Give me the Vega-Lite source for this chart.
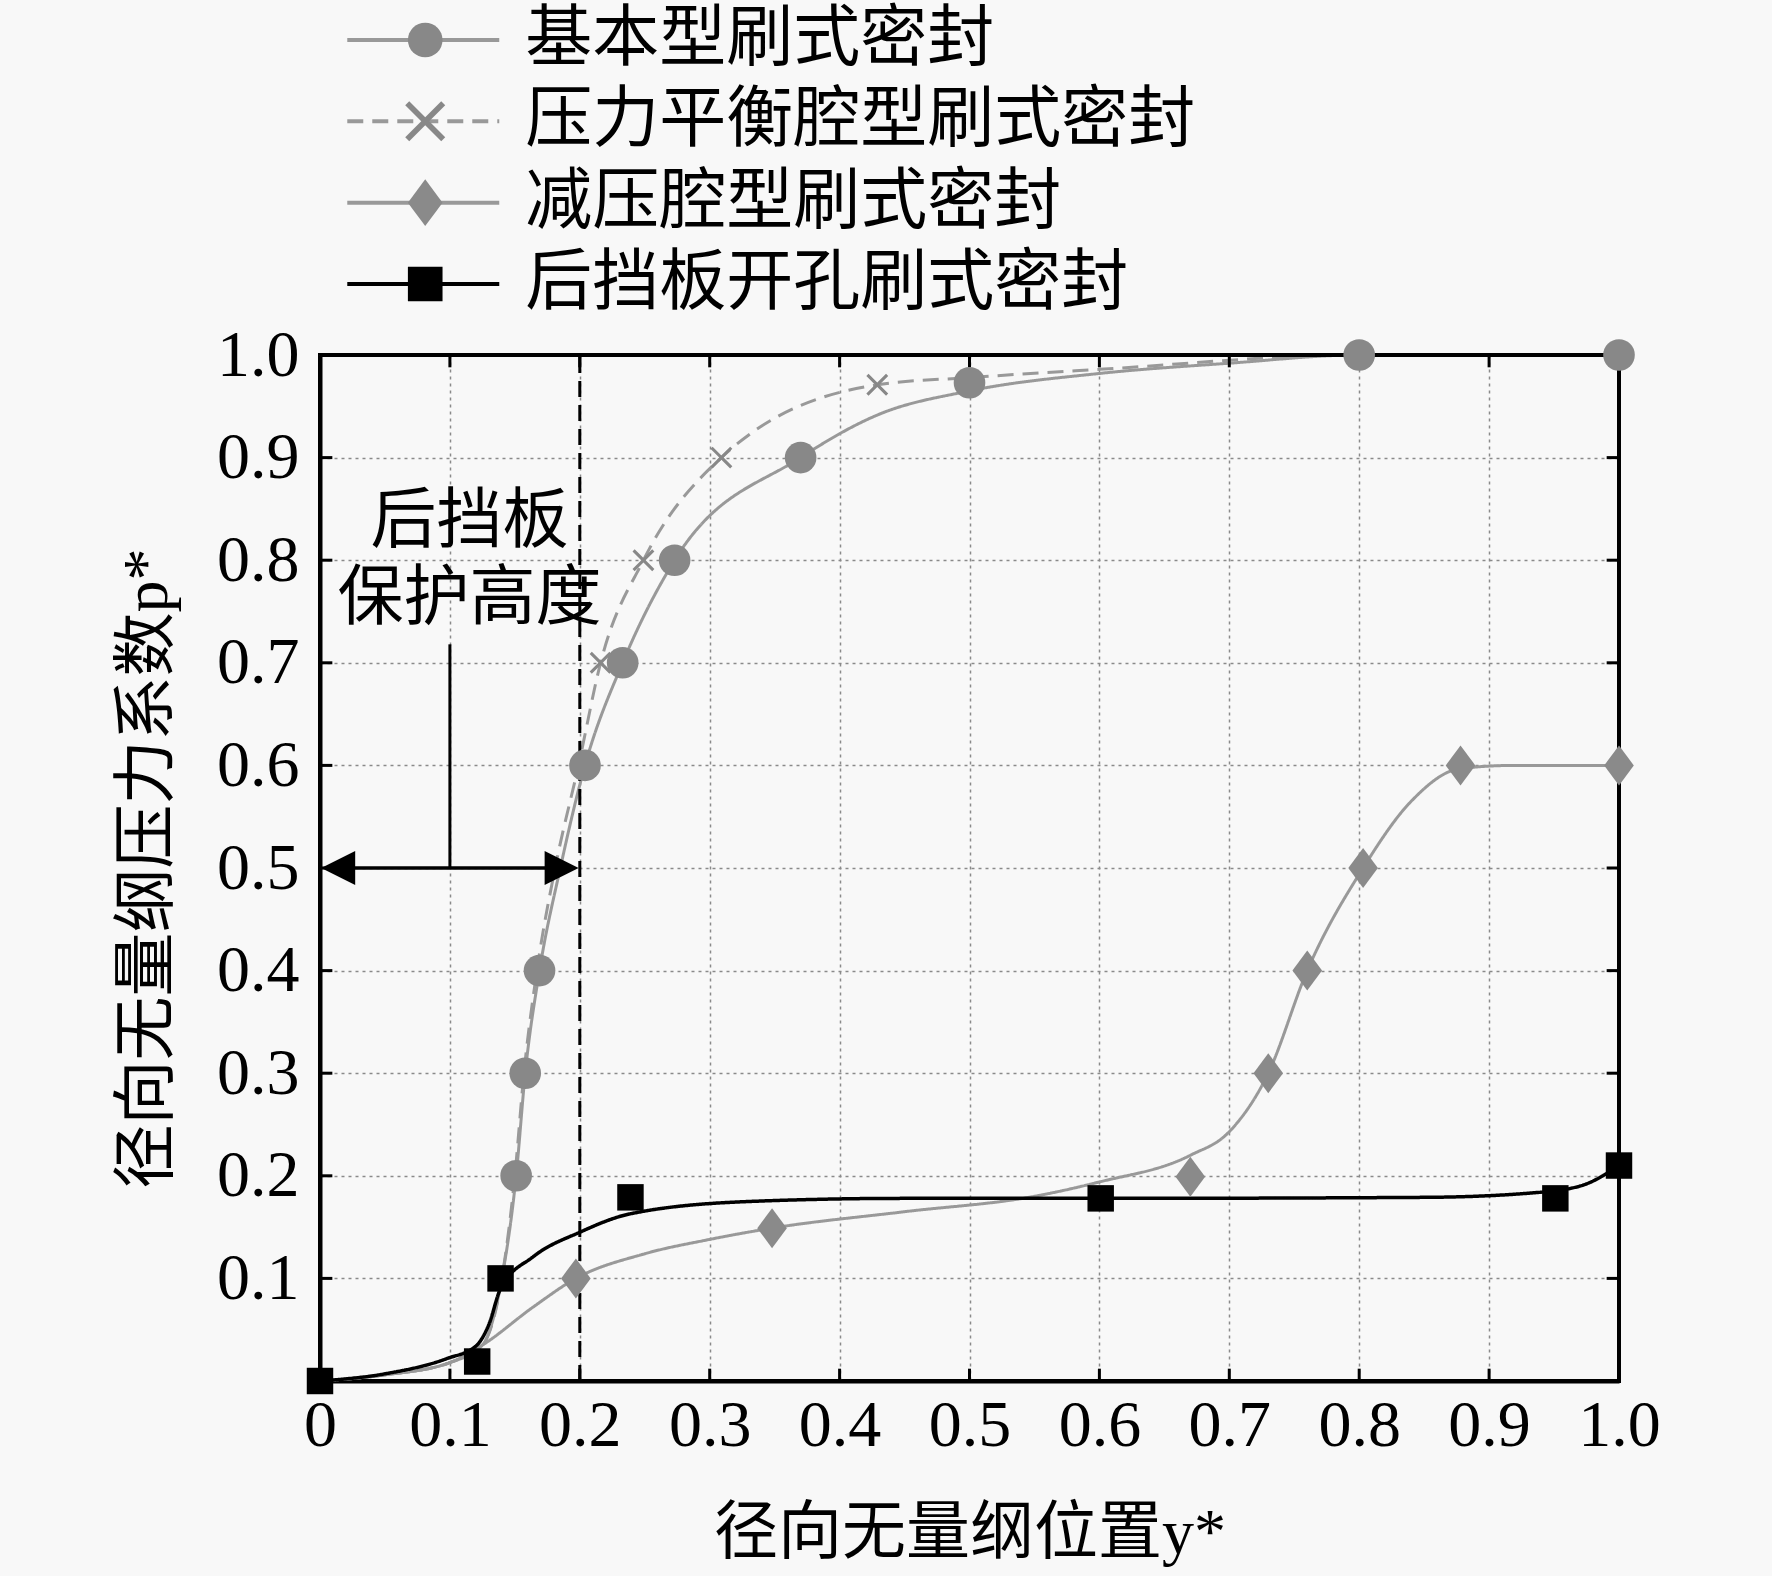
{
  "$schema": "https://vega.github.io/schema/vega-lite/v6.json",
  "width": 1299,
  "height": 1026,
  "autosize": {"type": "none"},
  "padding": {"left": 320, "top": 355, "right": 153, "bottom": 195},
  "background": "#f8f8f8",
  "datasets": {
    "curves": [
      {"series": "基本型刷式密封", "x": 0, "p": 0},
      {"series": "基本型刷式密封", "x": 0.05, "p": 0.006},
      {"series": "基本型刷式密封", "x": 0.1, "p": 0.018},
      {"series": "基本型刷式密封", "x": 0.125, "p": 0.035},
      {"series": "基本型刷式密封", "x": 0.14, "p": 0.1},
      {"series": "基本型刷式密封", "x": 0.151, "p": 0.2},
      {"series": "基本型刷式密封", "x": 0.158, "p": 0.3},
      {"series": "基本型刷式密封", "x": 0.169, "p": 0.4},
      {"series": "基本型刷式密封", "x": 0.185, "p": 0.5},
      {"series": "基本型刷式密封", "x": 0.204, "p": 0.6},
      {"series": "基本型刷式密封", "x": 0.233, "p": 0.7},
      {"series": "基本型刷式密封", "x": 0.273, "p": 0.8},
      {"series": "基本型刷式密封", "x": 0.37, "p": 0.9},
      {"series": "基本型刷式密封", "x": 0.43, "p": 0.942},
      {"series": "基本型刷式密封", "x": 0.5, "p": 0.965},
      {"series": "基本型刷式密封", "x": 0.6, "p": 0.982},
      {"series": "基本型刷式密封", "x": 0.7, "p": 0.992},
      {"series": "基本型刷式密封", "x": 0.8, "p": 1.0},
      {"series": "基本型刷式密封", "x": 1.0, "p": 1.0},
      {"series": "压力平衡腔型刷式密封", "x": 0, "p": 0},
      {"series": "压力平衡腔型刷式密封", "x": 0.05, "p": 0.006},
      {"series": "压力平衡腔型刷式密封", "x": 0.1, "p": 0.018},
      {"series": "压力平衡腔型刷式密封", "x": 0.125, "p": 0.035},
      {"series": "压力平衡腔型刷式密封", "x": 0.14, "p": 0.1},
      {"series": "压力平衡腔型刷式密封", "x": 0.15, "p": 0.2},
      {"series": "压力平衡腔型刷式密封", "x": 0.157, "p": 0.3},
      {"series": "压力平衡腔型刷式密封", "x": 0.167, "p": 0.4},
      {"series": "压力平衡腔型刷式密封", "x": 0.181, "p": 0.5},
      {"series": "压力平衡腔型刷式密封", "x": 0.199, "p": 0.6},
      {"series": "压力平衡腔型刷式密封", "x": 0.216, "p": 0.7},
      {"series": "压力平衡腔型刷式密封", "x": 0.249, "p": 0.8},
      {"series": "压力平衡腔型刷式密封", "x": 0.309, "p": 0.9},
      {"series": "压力平衡腔型刷式密封", "x": 0.429, "p": 0.971},
      {"series": "压力平衡腔型刷式密封", "x": 0.5, "p": 0.978},
      {"series": "压力平衡腔型刷式密封", "x": 0.6, "p": 0.986},
      {"series": "压力平衡腔型刷式密封", "x": 0.8, "p": 1.0},
      {"series": "压力平衡腔型刷式密封", "x": 1.0, "p": 1.0},
      {"series": "减压腔型刷式密封", "x": 0, "p": 0},
      {"series": "减压腔型刷式密封", "x": 0.05, "p": 0.006},
      {"series": "减压腔型刷式密封", "x": 0.1, "p": 0.018},
      {"series": "减压腔型刷式密封", "x": 0.125, "p": 0.035},
      {"series": "减压腔型刷式密封", "x": 0.164, "p": 0.072},
      {"series": "减压腔型刷式密封", "x": 0.197, "p": 0.1},
      {"series": "减压腔型刷式密封", "x": 0.25, "p": 0.124},
      {"series": "减压腔型刷式密封", "x": 0.3, "p": 0.138},
      {"series": "减压腔型刷式密封", "x": 0.348, "p": 0.149},
      {"series": "减压腔型刷式密封", "x": 0.45, "p": 0.165},
      {"series": "减压腔型刷式密封", "x": 0.55, "p": 0.18},
      {"series": "减压腔型刷式密封", "x": 0.6, "p": 0.194},
      {"series": "减压腔型刷式密封", "x": 0.67, "p": 0.22},
      {"series": "减压腔型刷式密封", "x": 0.7, "p": 0.243},
      {"series": "减压腔型刷式密封", "x": 0.73, "p": 0.3},
      {"series": "减压腔型刷式密封", "x": 0.76, "p": 0.4},
      {"series": "减压腔型刷式密封", "x": 0.803, "p": 0.5},
      {"series": "减压腔型刷式密封", "x": 0.84, "p": 0.565},
      {"series": "减压腔型刷式密封", "x": 0.878, "p": 0.597},
      {"series": "减压腔型刷式密封", "x": 0.92, "p": 0.6},
      {"series": "减压腔型刷式密封", "x": 1.0, "p": 0.6},
      {"series": "后挡板开孔刷式密封", "x": 0, "p": 0},
      {"series": "后挡板开孔刷式密封", "x": 0.05, "p": 0.007},
      {"series": "后挡板开孔刷式密封", "x": 0.098, "p": 0.022},
      {"series": "后挡板开孔刷式密封", "x": 0.12, "p": 0.034},
      {"series": "后挡板开孔刷式密封", "x": 0.13, "p": 0.055},
      {"series": "后挡板开孔刷式密封", "x": 0.139, "p": 0.09},
      {"series": "后挡板开孔刷式密封", "x": 0.164, "p": 0.121},
      {"series": "后挡板开孔刷式密封", "x": 0.2, "p": 0.145},
      {"series": "后挡板开孔刷式密封", "x": 0.239, "p": 0.163},
      {"series": "后挡板开孔刷式密封", "x": 0.331, "p": 0.175},
      {"series": "后挡板开孔刷式密封", "x": 0.45, "p": 0.178},
      {"series": "后挡板开孔刷式密封", "x": 0.6, "p": 0.178},
      {"series": "后挡板开孔刷式密封", "x": 0.85, "p": 0.179},
      {"series": "后挡板开孔刷式密封", "x": 0.93, "p": 0.183},
      {"series": "后挡板开孔刷式密封", "x": 0.97, "p": 0.19},
      {"series": "后挡板开孔刷式密封", "x": 1.0, "p": 0.21}
    ],
    "markers": [
      {"series": "基本型刷式密封", "x": 0.151, "p": 0.2},
      {"series": "基本型刷式密封", "x": 0.158, "p": 0.3},
      {"series": "基本型刷式密封", "x": 0.169, "p": 0.4},
      {"series": "基本型刷式密封", "x": 0.204, "p": 0.6},
      {"series": "基本型刷式密封", "x": 0.233, "p": 0.7},
      {"series": "基本型刷式密封", "x": 0.273, "p": 0.8},
      {"series": "基本型刷式密封", "x": 0.37, "p": 0.9},
      {"series": "基本型刷式密封", "x": 0.5, "p": 0.973},
      {"series": "基本型刷式密封", "x": 0.8, "p": 1.0},
      {"series": "基本型刷式密封", "x": 1.0, "p": 1.0},
      {"series": "压力平衡腔型刷式密封", "x": 0.216, "p": 0.7},
      {"series": "压力平衡腔型刷式密封", "x": 0.249, "p": 0.8},
      {"series": "压力平衡腔型刷式密封", "x": 0.309, "p": 0.9},
      {"series": "压力平衡腔型刷式密封", "x": 0.429, "p": 0.971},
      {"series": "减压腔型刷式密封", "x": 0.197, "p": 0.1},
      {"series": "减压腔型刷式密封", "x": 0.348, "p": 0.149},
      {"series": "减压腔型刷式密封", "x": 0.67, "p": 0.199},
      {"series": "减压腔型刷式密封", "x": 0.73, "p": 0.3},
      {"series": "减压腔型刷式密封", "x": 0.76, "p": 0.4},
      {"series": "减压腔型刷式密封", "x": 0.803, "p": 0.5},
      {"series": "减压腔型刷式密封", "x": 0.878, "p": 0.6},
      {"series": "减压腔型刷式密封", "x": 1.0, "p": 0.6},
      {"series": "后挡板开孔刷式密封", "x": 0, "p": 0},
      {"series": "后挡板开孔刷式密封", "x": 0.121, "p": 0.019},
      {"series": "后挡板开孔刷式密封", "x": 0.139, "p": 0.1},
      {"series": "后挡板开孔刷式密封", "x": 0.239, "p": 0.179},
      {"series": "后挡板开孔刷式密封", "x": 0.601, "p": 0.178},
      {"series": "后挡板开孔刷式密封", "x": 0.951, "p": 0.178},
      {"series": "后挡板开孔刷式密封", "x": 1.0, "p": 0.21}
    ],
    "legend": [
      {"series": "基本型刷式密封"},
      {"series": "压力平衡腔型刷式密封"},
      {"series": "减压腔型刷式密封"},
      {"series": "后挡板开孔刷式密封"}
    ],
    "ticks": [
      {"v": 0.1}, {"v": 0.2}, {"v": 0.3}, {"v": 0.4}, {"v": 0.5},
      {"v": 0.6}, {"v": 0.7}, {"v": 0.8}, {"v": 0.9}
    ]
  },
  "layer": [
    {
      "layer": [
        {
          "data": {"name": "curves"},
          "mark": {"type": "line", "interpolate": "monotone"},
          "encoding": {
            "x": {
              "field": "x",
              "type": "quantitative",
              "scale": {"domain": [0, 1], "nice": false},
              "title": "径向无量纲位置y*",
              "axis": {
                "values": [0, 0.1, 0.2, 0.3, 0.4, 0.5, 0.6, 0.7, 0.8, 0.9, 1.0],
                "labelExpr": "datum.value == 0 ? '0' : format(datum.value, '.1f')"
              }
            },
            "y": {
              "field": "p",
              "type": "quantitative",
              "scale": {"domain": [0, 1], "nice": false},
              "title": "径向无量纲压力系数p*",
              "axis": {
                "values": [0, 0.1, 0.2, 0.3, 0.4, 0.5, 0.6, 0.7, 0.8, 0.9, 1.0],
                "labelExpr": "datum.value == 0 ? '' : format(datum.value, '.1f')"
              }
            },
            "detail": {"field": "series"},
            "stroke": {
              "field": "series",
              "scale": {
                "domain": ["基本型刷式密封", "压力平衡腔型刷式密封", "减压腔型刷式密封", "后挡板开孔刷式密封"],
                "range": ["#999999", "#999999", "#999999", "#000000"]
              },
              "legend": null
            },
            "strokeDash": {
              "field": "series",
              "scale": {
                "domain": ["基本型刷式密封", "压力平衡腔型刷式密封", "减压腔型刷式密封", "后挡板开孔刷式密封"],
                "range": [[1, 0], [16, 9], [1, 0], [1, 0]]
              },
              "legend": null
            },
            "strokeWidth": {
              "field": "series",
              "scale": {
                "type": "ordinal",
                "domain": ["基本型刷式密封", "压力平衡腔型刷式密封", "减压腔型刷式密封", "后挡板开孔刷式密封"],
                "range": [3, 3, 3, 3.5]
              },
              "legend": null
            }
          }
        },
        {
          "data": {"name": "ticks"},
          "mark": {"type": "rule", "strokeWidth": 3, "color": "#000"},
          "encoding": {
            "x": {"field": "v", "type": "quantitative"},
            "y": {"datum": 0, "type": "quantitative"},
            "y2": {"datum": 0.012}
          }
        },
        {
          "data": {"name": "ticks"},
          "mark": {"type": "rule", "strokeWidth": 3, "color": "#000"},
          "encoding": {
            "x": {"field": "v", "type": "quantitative"},
            "y": {"datum": 1, "type": "quantitative"},
            "y2": {"datum": 0.988}
          }
        },
        {
          "data": {"name": "ticks"},
          "mark": {"type": "rule", "strokeWidth": 3, "color": "#000"},
          "encoding": {
            "y": {"field": "v", "type": "quantitative"},
            "x": {"datum": 0, "type": "quantitative"},
            "x2": {"datum": 0.0095}
          }
        },
        {
          "data": {"name": "ticks"},
          "mark": {"type": "rule", "strokeWidth": 3, "color": "#000"},
          "encoding": {
            "y": {"field": "v", "type": "quantitative"},
            "x": {"datum": 1, "type": "quantitative"},
            "x2": {"datum": 0.9905}
          }
        },
        {
          "data": {"values": [{}]},
          "mark": {"type": "rule", "strokeWidth": 4, "color": "#000"},
          "encoding": {
            "x": {"datum": 1, "type": "quantitative"},
            "y": {"datum": 0, "type": "quantitative"},
            "y2": {"datum": 1}
          }
        },
        {
          "data": {"values": [{}]},
          "mark": {"type": "rule", "strokeWidth": 4, "color": "#000"},
          "encoding": {
            "x": {"datum": 0, "type": "quantitative"},
            "x2": {"datum": 1},
            "y": {"datum": 1, "type": "quantitative"}
          }
        },
        {
          "data": {"values": [{}]},
          "mark": {"type": "rule", "strokeDash": [16, 8], "strokeWidth": 3, "color": "#000"},
          "encoding": {
            "x": {"datum": 0.2, "type": "quantitative"},
            "y": {"datum": 0, "type": "quantitative"},
            "y2": {"datum": 1}
          }
        },
        {
          "data": {"values": [{}]},
          "mark": {"type": "rule", "strokeWidth": 3.5, "color": "#000"},
          "encoding": {
            "x": {"datum": 0.006, "type": "quantitative"},
            "x2": {"datum": 0.194},
            "y": {"datum": 0.5, "type": "quantitative"}
          }
        },
        {
          "data": {"values": [{}]},
          "mark": {"type": "rule", "strokeWidth": 3, "color": "#000"},
          "encoding": {
            "x": {"datum": 0.1, "type": "quantitative"},
            "y": {"datum": 0.5, "type": "quantitative"},
            "y2": {"datum": 0.718}
          }
        },
        {
          "data": {"values": [{}]},
          "mark": {"type": "point", "shape": "M1,-1L-1,0L1,1Z", "filled": true, "color": "#000", "size": 1156, "opacity": 1},
          "encoding": {
            "x": {"datum": 0.014, "type": "quantitative"},
            "y": {"datum": 0.5, "type": "quantitative"}
          }
        },
        {
          "data": {"values": [{}]},
          "mark": {"type": "point", "shape": "M-1,-1L1,0L-1,1Z", "filled": true, "color": "#000", "size": 1156, "opacity": 1},
          "encoding": {
            "x": {"datum": 0.186, "type": "quantitative"},
            "y": {"datum": 0.5, "type": "quantitative"}
          }
        },
        {
          "data": {"values": [{}]},
          "mark": {"type": "text", "fontSize": 66, "font": "Liberation Serif, Noto Sans CJK SC", "align": "center", "baseline": "middle", "color": "#000", "text": "后挡板"},
          "encoding": {
            "x": {"datum": 0.115, "type": "quantitative"},
            "y": {"datum": 0.837, "type": "quantitative"}
          }
        },
        {
          "data": {"values": [{}]},
          "mark": {"type": "text", "fontSize": 66, "font": "Liberation Serif, Noto Sans CJK SC", "align": "center", "baseline": "middle", "color": "#000", "text": "保护高度"},
          "encoding": {
            "x": {"datum": 0.115, "type": "quantitative"},
            "y": {"datum": 0.762, "type": "quantitative"}
          }
        },
        {
          "data": {"name": "markers"},
          "mark": {"type": "point", "filled": true, "opacity": 1},
          "encoding": {
            "x": {"field": "x", "type": "quantitative"},
            "y": {"field": "p", "type": "quantitative"},
            "shape": {
              "field": "series",
              "scale": {
                "domain": ["基本型刷式密封", "压力平衡腔型刷式密封", "减压腔型刷式密封", "后挡板开孔刷式密封"],
                "range": ["circle", "M-1,-0.8L-0.8,-1L0,-0.2L0.8,-1L1,-0.8L0.2,0L1,0.8L0.8,1L0,0.2L-0.8,1L-1,0.8L-0.2,0Z", "M0,-1L0.74,0L0,1L-0.74,0Z", "square"]
              },
              "legend": null
            },
            "fill": {
              "field": "series",
              "scale": {
                "domain": ["基本型刷式密封", "压力平衡腔型刷式密封", "减压腔型刷式密封", "后挡板开孔刷式密封"],
                "range": ["#888888", "#888888", "#8a8a8a", "#000000"]
              },
              "legend": null
            },
            "size": {
              "field": "series",
              "scale": {
                "type": "ordinal",
                "domain": ["基本型刷式密封", "压力平衡腔型刷式密封", "减压腔型刷式密封", "后挡板开孔刷式密封"],
                "range": [1000, 480, 1600, 700]
              },
              "legend": null
            }
          }
        }
      ]
    },
    {
      "data": {"name": "legend"},
      "layer": [
        {
          "mark": {"type": "rule", "strokeWidth": 4},
          "encoding": {
            "x": {"datum": 0.021, "type": "quantitative"},
            "x2": {"datum": 0.138},
            "y": {
              "field": "series",
              "type": "nominal",
              "axis": null,
              "scale": {
                "type": "point",
                "padding": 0,
                "domain": ["基本型刷式密封", "压力平衡腔型刷式密封", "减压腔型刷式密封", "后挡板开孔刷式密封"],
                "range": [-315, -71]
              }
            },
            "stroke": {"field": "series", "legend": null},
            "strokeDash": {"field": "series", "legend": null}
          }
        },
        {
          "mark": {"type": "point", "filled": true, "opacity": 1},
          "encoding": {
            "x": {"datum": 0.081, "type": "quantitative"},
            "y": {"field": "series", "type": "nominal", "axis": null},
            "shape": {"field": "series", "legend": null},
            "fill": {"field": "series", "legend": null},
            "size": {
              "field": "series",
              "scale": {
                "type": "ordinal",
                "domain": ["基本型刷式密封", "压力平衡腔型刷式密封", "减压腔型刷式密封", "后挡板开孔刷式密封"],
                "range": [1200, 1600, 2200, 1200]
              },
              "legend": null
            }
          }
        },
        {
          "mark": {"type": "text", "fontSize": 67, "font": "Liberation Serif, Noto Sans CJK SC", "align": "left", "baseline": "middle", "color": "#000"},
          "encoding": {
            "x": {"datum": 0.158, "type": "quantitative"},
            "y": {"field": "series", "type": "nominal", "axis": null},
            "text": {"field": "series"}
          }
        }
      ]
    }
  ],
  "resolve": {"scale": {"y": "independent", "size": "independent"}},
  "config": {
    "view": {"stroke": "#000", "strokeWidth": 4},
    "axis": {
      "grid": true,
      "gridColor": "#8a8a8a",
      "gridDash": [3, 4],
      "gridWidth": 1.5,
      "domainColor": "#000",
      "domainWidth": 4,
      "ticks": false,
      "tickSize": 0,
      "labelFlush": false,
      "labelOverlap": false,
      "labelFont": "Liberation Serif",
      "labelFontSize": 66,
      "labelColor": "#000",
      "titleFont": "Liberation Serif, Noto Sans CJK SC",
      "titleFontSize": 64,
      "titleFontWeight": "normal",
      "titleColor": "#000"
    },
    "axisX": {"labelPadding": 12, "titlePadding": 43},
    "axisY": {"labelPadding": 21, "titlePadding": 37}
  }
}
